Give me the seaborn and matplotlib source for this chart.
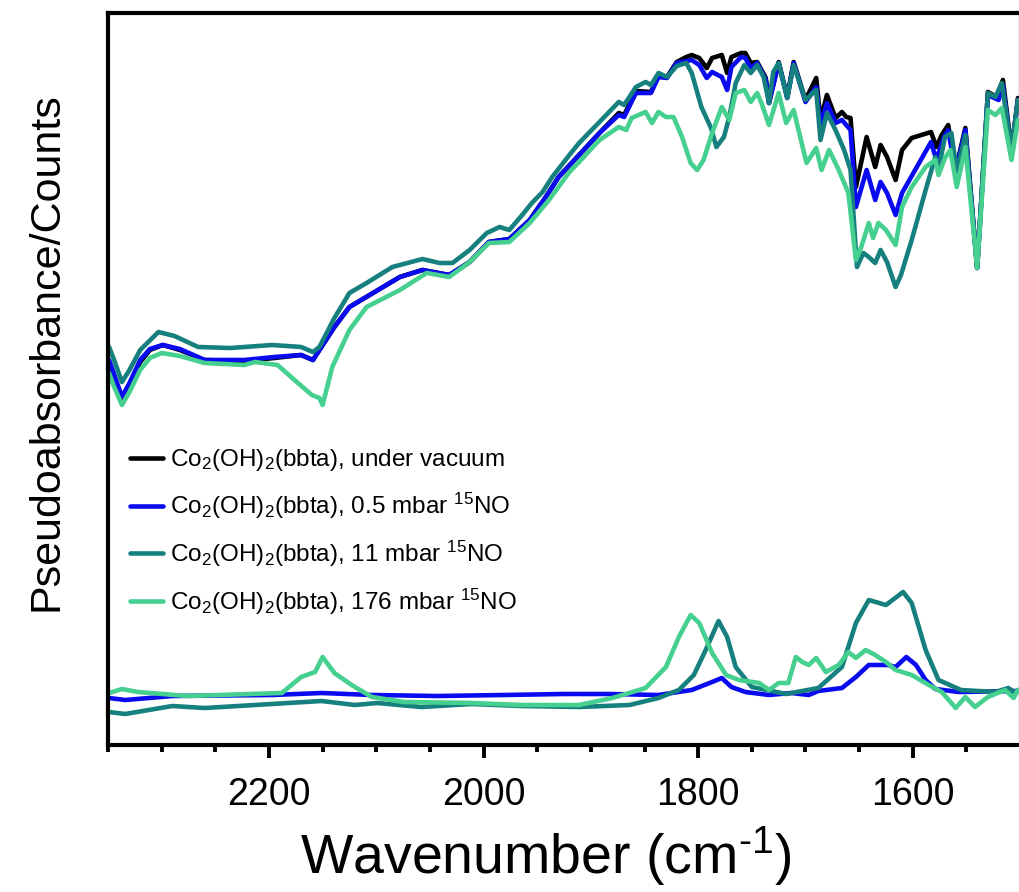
import numpy as np
import pandas as pd
import matplotlib
matplotlib.use("Agg")
import matplotlib.pyplot as plt
import seaborn as sns
from matplotlib.ticker import MultipleLocator

# ---- spectra (wavenumber in cm-1, pseudoabsorbance in arbitrary counts) ----
wn_vac = [2349, 2345, 2337, 2330, 2320, 2311, 2299, 2283, 2260, 2223, 2195, 2170, 2159, 2139, 2125,
          2078, 2057, 2032, 2013, 1995, 1976, 1957, 1942, 1930, 1911, 1892, 1874, 1869, 1858, 1844,
          1837, 1829, 1820, 1811, 1806, 1799, 1792, 1787, 1778, 1773, 1769, 1760, 1756, 1751, 1745,
          1737, 1734, 1725, 1717, 1711, 1700, 1690, 1686, 1680, 1672, 1666, 1662, 1658, 1653, 1643,
          1635, 1630, 1624, 1616, 1610, 1601, 1583, 1578, 1573, 1567, 1560, 1551, 1540, 1530, 1522,
          1516, 1508, 1502]
ab_vac = [382, 370, 345, 360, 383, 395, 400, 395, 385, 384, 387, 390, 385, 418, 438,
          468, 475, 470, 483, 503, 506, 525, 548, 568, 590, 612, 632, 630, 654, 653,
          670, 668, 683, 688, 690, 687, 677, 687, 690, 672, 688, 692, 692, 682, 683,
          667, 642, 683, 648, 683, 645, 667, 625, 650, 627, 633, 628, 627, 558, 608,
          578, 600, 588, 565, 595, 607, 613, 598, 610, 620, 575, 617, 477, 653, 648,
          665, 595, 647]

wn_05 = [2349, 2345, 2337, 2330, 2320, 2311, 2299, 2283, 2260, 2223, 2195, 2170, 2159, 2139, 2125,
         2078, 2057, 2032, 2013, 1995, 1976, 1957, 1942, 1930, 1911, 1892, 1874, 1869, 1858, 1844,
         1837, 1829, 1820, 1806, 1799, 1792, 1787, 1778, 1773, 1769, 1760, 1756, 1751, 1745, 1737,
         1734, 1725, 1717, 1711, 1700, 1690, 1686, 1680, 1672, 1666, 1658, 1653, 1643, 1635, 1630,
         1624, 1616, 1610, 1583, 1578, 1571, 1567, 1560, 1551, 1540, 1530, 1520, 1516, 1508, 1502]
ab_05 = [385, 373, 348, 362, 385, 396, 400, 396, 385, 385, 388, 390, 385, 418, 438,
         468, 475, 470, 483, 503, 506, 525, 548, 568, 590, 612, 630, 628, 652, 652,
         668, 667, 682, 685, 680, 667, 673, 668, 655, 678, 688, 687, 677, 682, 665,
         642, 682, 647, 682, 643, 658, 620, 642, 622, 625, 615, 538, 575, 545, 563,
         552, 530, 552, 603, 585, 608, 615, 573, 615, 477, 650, 645, 660, 593, 645]

wn_11 = [2349, 2345, 2337, 2330, 2320, 2303, 2288, 2266, 2236, 2197, 2170, 2159, 2153, 2139, 2125,
         2109, 2085, 2057, 2041, 2029, 2013, 1997, 1985, 1976, 1964, 1955, 1945, 1936, 1920, 1911,
         1892, 1874, 1869, 1858, 1849, 1844, 1837, 1829, 1820, 1811, 1806, 1797, 1788, 1783, 1776,
         1771, 1765, 1757, 1751, 1745, 1739, 1734, 1730, 1725, 1717, 1711, 1700, 1690, 1686, 1680,
         1672, 1664, 1658, 1652, 1646, 1641, 1635, 1630, 1624, 1616, 1611, 1601, 1588, 1579, 1576,
         1570, 1564, 1559, 1551, 1540, 1530, 1523, 1517, 1508, 1502]
ab_11 = [398, 387, 363, 375, 395, 413, 409, 398, 397, 400, 398, 393, 398, 427, 452,
         462, 478, 486, 482, 482, 495, 512, 518, 515, 530, 542, 553, 568, 590, 602,
         623, 643, 640, 658, 663, 660, 672, 668, 679, 682, 672, 638, 617, 598, 608,
         628, 662, 680, 672, 680, 668, 642, 673, 682, 647, 680, 645, 655, 605, 632,
         615, 595, 575, 478, 492, 488, 482, 495, 483, 458, 470, 505, 555, 588, 575,
         608, 612, 573, 610, 477, 652, 648, 662, 595, 645]

wn_176 = [2349, 2345, 2337, 2330, 2320, 2311, 2300, 2283, 2260, 2223, 2213, 2192, 2173, 2160, 2153,
          2150, 2141, 2125, 2109, 2078, 2053, 2032, 2013, 1995, 1976, 1957, 1939, 1920, 1911, 1892,
          1874, 1867, 1862, 1849, 1843, 1837, 1830, 1823, 1815, 1807, 1801, 1795, 1787, 1778, 1771,
          1765, 1757, 1751, 1745, 1741, 1734, 1725, 1718, 1711, 1699, 1690, 1685, 1678, 1669, 1660,
          1653, 1648, 1641, 1637, 1632, 1625, 1616, 1610, 1601, 1588, 1579, 1576, 1570, 1565, 1559,
          1551, 1540, 1530, 1523, 1517, 1508, 1502]
ab_176 = [372, 360, 340, 353, 375, 387, 392, 389, 382, 380, 383, 380, 362, 350, 347,
          340, 378, 415, 438, 455, 472, 468, 483, 502, 503, 522, 545, 573, 583, 605,
          618, 615, 627, 633, 622, 633, 628, 628, 608, 582, 575, 585, 612, 638, 625,
          652, 655, 643, 652, 642, 620, 652, 622, 635, 582, 597, 575, 595, 575, 552,
          485, 498, 522, 507, 522, 515, 500, 538, 558, 578, 585, 570, 587, 595, 558,
          598, 477, 635, 630, 637, 585, 625]

# ---- difference spectra ----
wn_d05 = [2349, 2334, 2290, 2197, 2151, 2104, 2043, 1981, 1925, 1883, 1837, 1806, 1787, 1778, 1769,
          1756, 1734, 1713, 1697, 1688, 1666, 1653, 1641, 1623, 1616, 1606, 1597, 1588, 1579, 1557,
          1502]
d05 = [47, 45, 49, 50, 52, 50, 49, 50, 51, 51, 50, 55, 63, 67, 58,
       53, 50, 52, 50, 54, 57, 68, 80, 80, 78, 88, 80, 65, 56, 53,
       54]

wn_d11 = [2349, 2334, 2290, 2260, 2213, 2151, 2120, 2099, 2058, 2011, 1965, 1911, 1864, 1837, 1818,
          1804, 1793, 1781, 1773, 1765, 1750, 1718, 1688, 1666, 1653, 1641, 1625, 1609, 1601, 1588,
          1576, 1555, 1523, 1511, 1504, 1502]
d11 = [33, 31, 39, 37, 40, 44, 40, 42, 38, 41, 39, 38, 40, 47, 55,
       70, 95, 124, 108, 78, 58, 51, 57, 78, 122, 145, 140, 153, 142, 95,
       65, 55, 53, 57, 52, 55]

wn_d176 = [2349, 2337, 2322, 2276, 2188, 2170, 2157, 2150, 2139, 2123, 2104, 2074, 2011, 1965, 1911,
           1880, 1849, 1830, 1818, 1807, 1799, 1787, 1774, 1762, 1743, 1734, 1725, 1716, 1709, 1703,
           1697, 1690, 1681, 1669, 1660, 1653, 1644, 1635, 1625, 1616, 1601, 1585, 1573, 1560, 1551,
           1542, 1530, 1514, 1506, 1502]
d176 = [52, 56, 53, 49, 52, 68, 73, 88, 72, 60, 48, 43, 42, 40, 40,
        47, 57, 78, 108, 130, 122, 92, 70, 65, 62, 55, 62, 62, 88, 83,
        80, 87, 73, 80, 93, 87, 95, 90, 83, 75, 70, 60, 53, 37, 48,
        38, 48, 55, 47, 55]

labels = [r'Co$_2$(OH)$_2$(bbta), under vacuum',
          r'Co$_2$(OH)$_2$(bbta), 0.5 mbar $^{15}$NO',
          r'Co$_2$(OH)$_2$(bbta), 11 mbar $^{15}$NO',
          r'Co$_2$(OH)$_2$(bbta), 176 mbar $^{15}$NO']
colors = ['#000000', '#0a0af0', '#16807e', '#45d08f']

sns.set_style('white')
plt.rcParams['font.family'] = ['Liberation Sans', 'DejaVu Sans']
plt.rcParams['mathtext.fontset'] = 'custom'
plt.rcParams['mathtext.rm'] = 'Liberation Sans'
plt.rcParams['mathtext.it'] = 'Liberation Sans:italic'
plt.rcParams['mathtext.bf'] = 'Liberation Sans:bold'
plt.rcParams['text.color'] = 'black'
plt.rcParams['axes.labelcolor'] = 'black'
plt.rcParams['xtick.color'] = 'black'
plt.rcParams['lines.solid_joinstyle'] = 'round'
plt.rcParams['lines.solid_capstyle'] = 'round'

fig = plt.figure(figsize=(10.2, 8.92), dpi=100)
ax = fig.add_axes([108 / 1020, 147 / 892, 911 / 1020, 732 / 892])

lw = 3.3
spectra = [(wn_vac, ab_vac), (wn_05, ab_05), (wn_11, ab_11), (wn_176, ab_176)]
for (x, y), c, lab in zip(spectra, colors, labels):
    sns.lineplot(x=x, y=y, color=c, lw=lw, label=lab, ax=ax, estimator=None, sort=False)

diffs = [(wn_d05, d05, colors[1]), (wn_d11, d11, colors[2]), (wn_d176, d176, colors[3])]
for x, y, c in diffs:
    sns.lineplot(x=x, y=y, color=c, lw=lw, ax=ax, estimator=None, sort=False, legend=False)

ax.set_xlim(2350, 1501)
ax.set_ylim(0, 732)
ax.set_yticks([])
ax.xaxis.set_major_locator(MultipleLocator(200))
ax.xaxis.set_minor_locator(MultipleLocator(50))
ax.tick_params(axis='x', which='major', direction='out', length=9, width=2.8,
               labelsize=27, pad=14, bottom=True, labelcolor='black')
ax.tick_params(axis='x', which='minor', direction='out', length=5, width=2.8, bottom=True)

for side in ['left', 'top', 'bottom']:
    ax.spines[side].set_linewidth(3)
    ax.spines[side].set_color('black')
ax.spines['right'].set_linewidth(1)
ax.spines['right'].set_color('#888888')

ax.set_xlabel('Wavenumber (cm$^{\\mathrm{\u2010}1}$)', fontsize=40)
ax.xaxis.set_label_coords(0.48, -0.108)
ax.set_ylabel('Pseudoabsorbance/Counts', fontsize=31)
ax.yaxis.set_label_coords(-0.046, 0.537)

ax.legend(loc='center left', bbox_to_anchor=(0.024, 0.291), frameon=False, fontsize=17.5,
          handlelength=1.35, handletextpad=0.3, borderpad=0, borderaxespad=0,
          labelspacing=0.72)

fig.savefig('out.png', dpi=100)
